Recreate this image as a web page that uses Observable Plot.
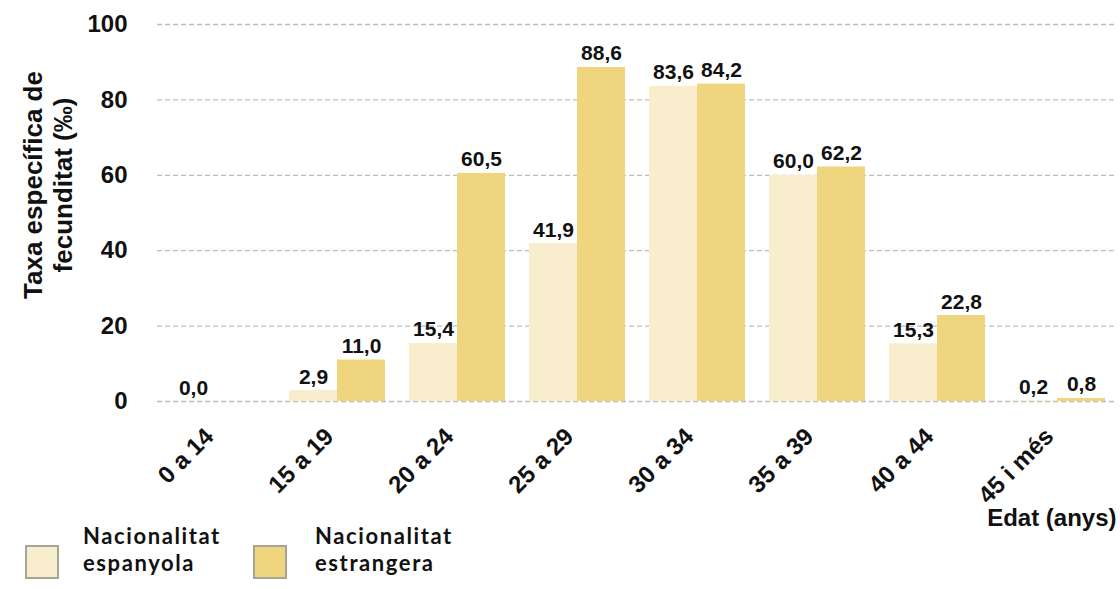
<!DOCTYPE html>
<html><head><meta charset="utf-8">
<script src="https://cdn.jsdelivr.net/npm/d3@7"></script>
<script src="https://cdn.jsdelivr.net/npm/@observablehq/plot@0.6"></script>
<style>
body{margin:0;background:#fff;}
#wrap{position:relative;width:1120px;height:589px;overflow:hidden;background:#fff;}
.item{position:absolute;font-family:Lato,"Open Sans",sans-serif;font-weight:bold;font-size:22px;line-height:27px;height:27px;letter-spacing:1.6px;color:#111;white-space:nowrap;}
.sw{position:absolute;width:30px;height:30px;border:2px solid #a8a493;}
</style></head>
<body>
<div id="wrap"></div>
<script>
const categories = ["0 a 14","15 a 19","20 a 24","25 a 29","30 a 34","35 a 39","40 a 44","45 i més"];
const espanyola = [0.0, 2.9, 15.4, 41.9, 83.6, 60.0, 15.3, 0.2];
const estrangera = [null, 11.0, 60.5, 88.6, 84.2, 62.2, 22.8, 0.8];
const seriesNames = ["Nacionalitat espanyola","Nacionalitat estrangera"];
const seriesColors = ["#F8EECD","#F0D57F"];
const yTicks = [0,20,40,60,80,100];

const espData = categories.map((c,i)=>({cat:c, v:espanyola[i]})).filter(d=>d.v!=null);
const estData = categories.map((c,i)=>({cat:c, v:estrangera[i]})).filter(d=>d.v!=null);
const fmt = v => v.toFixed(1).replace(".", ",");
const F = "'Liberation Sans', Arial, sans-serif";

const chart = Plot.plot({
  width:1120, height:589,
  marginLeft:157, marginRight:3, marginTop:24, marginBottom:188,
  style:{fontFamily:F, fontWeight:"bold", background:"white", color:"#111"},
  x:{domain:categories, paddingInner:0.2, paddingOuter:0.1, label:null},
  y:{domain:[0,100], label:null},
  marks:[
    Plot.ruleY(yTicks,{stroke:"#bdbdbd", strokeDasharray:"5,3", strokeWidth:1.3}),
    Plot.barY(espData,{x:"cat", y:"v", fill:seriesColors[0], insetRight:48}),
    Plot.barY(estData,{x:"cat", y:"v", fill:seriesColors[1], insetLeft:48}),
    Plot.text(espData,{x:"cat", y:"v", text:d=>fmt(d.v), dx:-24, dy:-7, lineAnchor:"bottom", fontSize:21, fontWeight:"bold", fill:"#111"}),
    Plot.text(estData,{x:"cat", y:"v", text:d=>fmt(d.v), dx:24, dy:-7, lineAnchor:"bottom", fontSize:21, fontWeight:"bold", fill:"#111"}),
    Plot.axisY({ticks:yTicks, tickSize:0, tickPadding:30, fontSize:24, label:null}),
    Plot.axisX({tickSize:0, tickRotate:-45, fontSize:24, tickPadding:31, dx:-8, label:null}),
    Plot.text(["Taxa específica de\nfecunditat (‰)"], {frameAnchor:"left", textAnchor:"middle", rotate:-90, dx:-110, dy:-28, fontSize:26, lineHeight:1.15, fill:"#111"}),
    Plot.text(["Edat (anys)"], {frameAnchor:"bottom-right", textAnchor:"end", lineAnchor:"middle", dy:117, dx:-1, fontSize:24, fill:"#111"})
  ]
});
const wrap = document.getElementById("wrap");
wrap.appendChild(chart);

const legendPos = [{sx:25, tx:83},{sx:253, tx:315}];
seriesNames.forEach((name,i)=>{
  const sw = document.createElement("div");
  sw.className = "sw";
  sw.style.left = legendPos[i].sx+"px"; sw.style.top = "545px";
  sw.style.background = seriesColors[i];
  wrap.appendChild(sw);
  const parts = name.split(" ");
  [parts[0], parts.slice(1).join(" ")].forEach((line,j)=>{
    const t = document.createElement("div");
    t.className = "item";
    t.style.left = legendPos[i].tx+"px"; t.style.top = (522 + j*27)+"px";
    t.textContent = line;
    wrap.appendChild(t);
  });
});
</script>
</body></html>
